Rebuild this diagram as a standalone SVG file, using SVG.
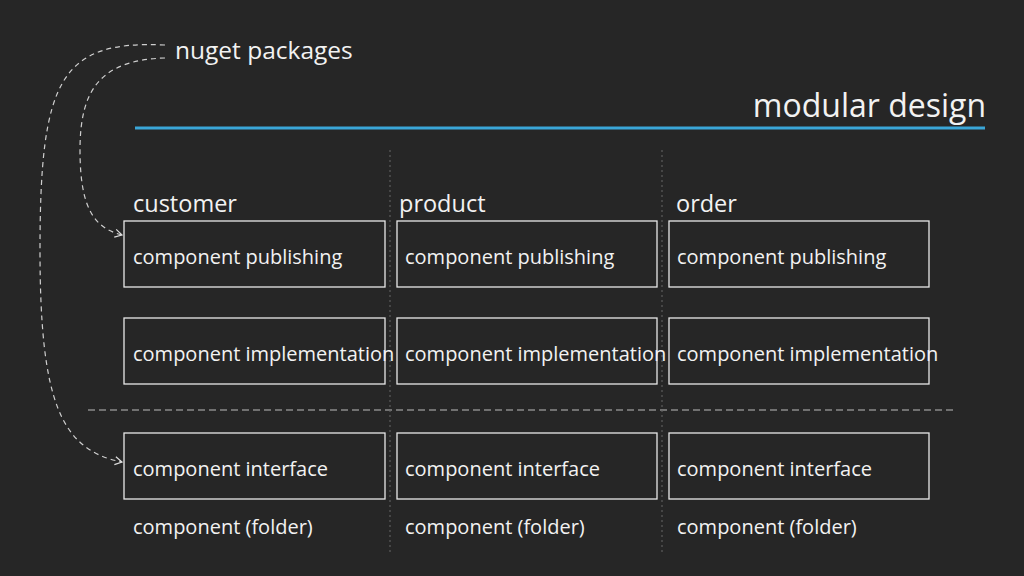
<svg xmlns="http://www.w3.org/2000/svg" width="1024" height="576" viewBox="0 0 1024 576">
<defs>
<style>
text{font-family:"Open Sans","Noto Sans",sans-serif;fill:#f2f2f2}
.b{fill:none;stroke:#e8e8e8;stroke-width:1.3}
.t{font-size:20px}
.h{font-size:23.5px}
.d{fill:none;stroke:#cfcfcf;stroke-width:1.2;stroke-dasharray:5 4}
</style>
<marker id="a" markerWidth="10" markerHeight="10" refX="8" refY="5" orient="auto" markerUnits="userSpaceOnUse">
<path d="M1,1 L8,5 L1,9" fill="none" stroke="#ddd" stroke-width="1.2"/>
</marker>
</defs>
<rect width="1024" height="576" fill="#262626"/>
<text x="986" y="117" font-size="32" text-anchor="end">modular design</text>
<line x1="135" y1="128" x2="985" y2="128" stroke="#3aa6d8" stroke-width="3"/>
<text x="175" y="59" font-size="24.5">nuget packages</text>
<g id="connectors">
<path class="d" d="M165,45 C60,40 40,80 40,250 C40,400 60,450 122,462" marker-end="url(#a)"/>
<path class="d" d="M165,58 C100,60 80,90 80,150 C80,210 95,228 122,235" marker-end="url(#a)"/>
<line x1="88" y1="410" x2="955" y2="410" stroke="#bbb" stroke-width="1.2" stroke-dasharray="7 4"/>
<line x1="390" y1="150" x2="390" y2="552" stroke="#666" stroke-width="1" stroke-dasharray="2 3"/>
<line x1="662" y1="150" x2="662" y2="552" stroke="#666" stroke-width="1" stroke-dasharray="2 3"/>
</g>
<g id="customer">
<text x="133" y="212" class="h">customer</text>
<rect class="b" x="124" y="221" width="261" height="66"/><text class="t" x="133" y="264">component publishing</text>
<rect class="b" x="124" y="318" width="261" height="66"/><text class="t" x="133" y="361">component implementation</text>
<rect class="b" x="124" y="433" width="261" height="66"/><text class="t" x="133" y="476">component interface</text>
<text class="t" x="133" y="534">component (folder)</text>
</g>
<g id="product">
<text x="399" y="212" class="h">product</text>
<rect class="b" x="397" y="221" width="260" height="66"/><text class="t" x="405" y="264">component publishing</text>
<rect class="b" x="397" y="318" width="260" height="66"/><text class="t" x="405" y="361">component implementation</text>
<rect class="b" x="397" y="433" width="260" height="66"/><text class="t" x="405" y="476">component interface</text>
<text class="t" x="405" y="534">component (folder)</text>
</g>
<g id="order">
<text x="676" y="212" class="h">order</text>
<rect class="b" x="669" y="221" width="260" height="66"/><text class="t" x="677" y="264">component publishing</text>
<rect class="b" x="669" y="318" width="260" height="66"/><text class="t" x="677" y="361">component implementation</text>
<rect class="b" x="669" y="433" width="260" height="66"/><text class="t" x="677" y="476">component interface</text>
<text class="t" x="677" y="534">component (folder)</text>
</g>
</svg>
